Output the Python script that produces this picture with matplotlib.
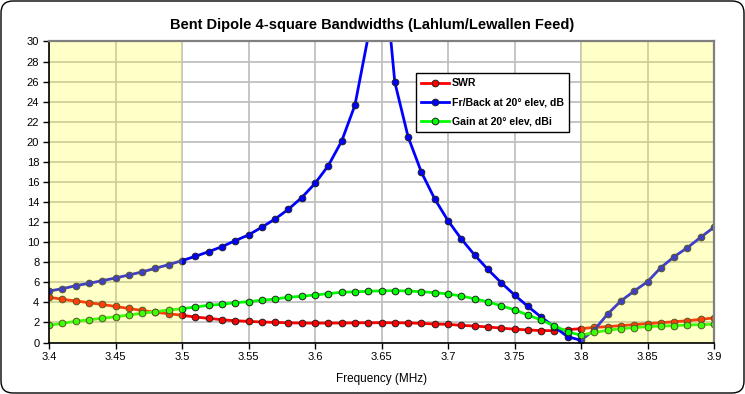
import matplotlib
matplotlib.use("Agg")
import matplotlib.pyplot as plt
import numpy as np
from matplotlib.patches import FancyBboxPatch

plt.rcParams["font.family"] = ["Liberation Sans Narrow", "Liberation Sans", "DejaVu Sans"]

# frequency grid, 3.40 .. 3.90 MHz in 10 kHz steps
freq = np.round(np.linspace(3.40, 3.90, 51), 2)

swr = [4.51, 4.31, 4.14, 3.97, 3.79, 3.59, 3.39, 3.19, 3.01, 2.87,
       2.71, 2.54, 2.41, 2.27, 2.17, 2.11, 2.04, 2.01, 1.96, 1.94,
       1.93, 1.94, 1.94, 1.96, 1.97, 1.97, 1.97, 1.95, 1.91, 1.84,
       1.81, 1.71, 1.64, 1.55, 1.43, 1.33, 1.25, 1.19, 1.18, 1.28,
       1.38, 1.51, 1.58, 1.68, 1.78, 1.88, 1.97, 2.07, 2.17, 2.31,
       2.45]
front_back = [5.13, 5.36, 5.66, 5.90, 6.16, 6.43, 6.73, 7.03, 7.40, 7.76,
              8.16, 8.59, 9.05, 9.55, 10.15, 10.72, 11.49, 12.31, 13.28, 14.44,
              15.85, 17.63, 20.06, 23.65, 30.5, 40.0, 25.94, 20.49, 16.97, 14.31,
              12.14, 10.32, 8.72, 7.28, 5.96, 4.74, 3.60, 2.54, 1.55, 0.58,
              0.22, 1.25, 2.84, 4.14, 5.13, 6.06, 7.46, 8.55, 9.45, 10.49,
              11.49]
gain = [1.71, 1.91, 2.11, 2.27, 2.41, 2.57, 2.74, 2.91, 3.07, 3.24,
        3.37, 3.54, 3.71, 3.81, 3.97, 4.07, 4.21, 4.34, 4.51, 4.61,
        4.74, 4.87, 5.00, 5.06, 5.10, 5.16, 5.16, 5.14, 5.06, 4.97,
        4.84, 4.63, 4.36, 4.05, 3.66, 3.26, 2.74, 2.24, 1.66, 1.06,
        0.73, 1.00, 1.22, 1.38, 1.48, 1.58, 1.64, 1.68, 1.74, 1.78,
        1.81]

series = [
    (swr, "SWR", "#ff0000"),
    (front_back, "Fr/Back at 20\u00b0 elev, dB", "#0000ff"),
    (gain, "Gain at 20\u00b0 elev, dBi", "#00ff00"),
]
bands = [(3.40, 3.50), (3.80, 3.90)]
xticks = [3.4, 3.45, 3.5, 3.55, 3.6, 3.65, 3.7, 3.75, 3.8, 3.85, 3.9]
xticklabels = ["3.4", "3.45", "3.5", "3.55", "3.6", "3.65", "3.7", "3.75", "3.8", "3.85", "3.9"]
yticks = list(range(0, 31, 2))

fig = plt.figure(figsize=(7.45, 3.94), dpi=100)
ax = fig.add_axes([0.0658, 0.1307, 0.8926, 0.764])

for values, label, color in series:
    ax.plot(freq, values, color=color, lw=2.0, marker="o", ms=4.8,
            mfc=color, mec="#202020", mew=0.7, label=label, zorder=3)

# the shaded bands sit on top of the traces, tinting them
for lo, hi in bands:
    ax.axvspan(lo, hi, color=(1.0, 1.0, 0.14), alpha=0.25, lw=0, zorder=5)

ax.set_xlim(3.4, 3.9)
ax.set_ylim(0, 30)
ax.set_xticks(xticks)
ax.set_xticklabels(xticklabels)
ax.set_yticks(yticks)
ax.tick_params(axis="both", labelsize=8, direction="out", length=4, width=1, pad=3)
ax.grid(True, color="#c0c0c0", lw=1.3, zorder=0)
ax.set_axisbelow(True)

for side in ["top", "right"]:
    ax.spines[side].set_color("#808080")
    ax.spines[side].set_linewidth(1.6)
for side in ["left", "bottom"]:
    ax.spines[side].set_color("black")
    ax.spines[side].set_linewidth(1.2)
for sp in ax.spines.values():
    sp.set_zorder(6)

ax.set_xlabel("Frequency (MHz)", fontsize=8.5, labelpad=8)

leg = ax.legend(loc="upper left", bbox_to_anchor=(0.552, 0.895), borderaxespad=0,
                prop={"weight": "bold", "size": 7.6}, frameon=True, fancybox=False,
                edgecolor="black", framealpha=1, handlelength=2.6, handletextpad=0.3,
                labelspacing=0.88, borderpad=0.5)
leg.get_frame().set_linewidth(1.0)
leg.set_zorder(7)

fig.suptitle("Bent Dipole 4-square Bandwidths (Lahlum/Lewallen Feed)",
             fontsize=10.5, fontweight="bold", y=0.955)

border = FancyBboxPatch((0.01, 0.01), 7.43, 3.92, boxstyle="round,pad=0,rounding_size=0.12",
                        transform=fig.dpi_scale_trans, fc="none", ec="black", lw=1.0)
fig.patches.append(border)

fig.savefig("out.png", dpi=100)
plt.close(fig)
